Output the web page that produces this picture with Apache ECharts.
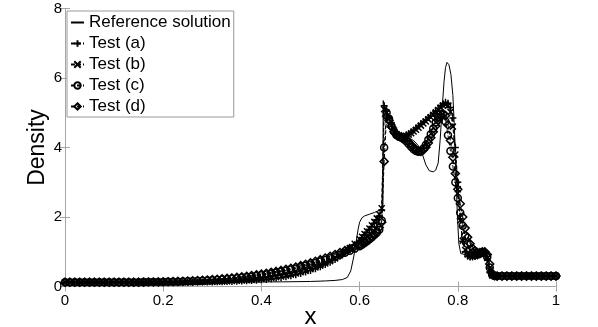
<!DOCTYPE html>
<html><head><meta charset="utf-8">
<script src="https://cdn.jsdelivr.net/npm/echarts@6/dist/echarts.min.js"></script>
<style>html,body{margin:0;padding:0;background:#fff}#c{width:598px;height:327px}</style>
</head><body><div id="c"></div>
<script>
const seriesNames = ['Reference solution','Test (a)','Test (b)','Test (c)','Test (d)'];
const xAxisTitle = 'x';
const yAxisTitle = 'Density';

const xRef = [0,0.30,0.40,0.45,0.50,0.53,0.55,0.565,0.575,0.582,0.588,0.593,0.597,0.60,0.605,0.61,0.62,0.63,0.64,0.6475,
  0.648,0.652,0.66,0.67,0.68,0.69,0.70,0.71,0.72,0.728,0.735,0.742,0.75,0.755,0.76,0.764,0.768,0.772,0.775,0.778,
  0.782,0.786,0.79,0.793,0.796,0.799,0.802,0.806,0.82,0.84,0.855,0.86,0.863,0.866,0.87,1.0];
const yRef = [0.125,0.126,0.13,0.135,0.145,0.16,0.175,0.2,0.26,0.45,0.85,1.3,1.65,1.85,1.98,2.03,2.08,2.13,2.19,2.25,
  5.35,5.15,4.85,4.55,4.38,4.32,4.28,4.2,4.05,3.8,3.5,3.33,3.3,3.35,3.55,4.2,5.1,5.9,6.3,6.45,
  6.38,6.1,5.5,4.6,3.3,2.1,1.25,0.95,0.9,0.9,0.9,0.88,0.6,0.32,0.3,0.3];

const xTest = [
  0,0.01,0.02,0.03,0.04,0.05,0.06,0.07,0.08,0.09,
  0.10,0.11,0.12,0.13,0.14,0.15,0.16,0.17,0.18,0.19,
  0.20,0.21,0.22,0.23,0.24,0.25,0.26,0.27,0.28,0.29,
  0.30,0.31,0.32,0.33,0.34,0.35,0.36,0.37,0.38,0.39,
  0.40,0.41,0.42,0.43,0.44,0.45,0.46,0.47,0.48,0.49,
  0.50,0.51,0.52,0.53,0.54,0.55,0.56,0.57,0.58,0.59,
  0.60,
  0.605,0.61,0.615,0.62,0.625,0.63,0.635,0.64,0.645,0.65,
  0.655,0.66,0.665,0.67,0.675,0.68,0.685,0.69,0.695,0.70,
  0.705,0.71,0.715,0.72,0.725,0.73,0.735,0.74,0.745,0.75,
  0.755,0.76,0.765,0.77,0.775,0.78,0.785,0.79,0.795,0.80,
  0.805,0.81,0.815,0.82,0.825,0.83,0.835,0.84,0.845,0.85,
  0.855,0.86,0.865,0.87,0.875,0.88,
  0.89,0.90,0.91,0.92,0.93,0.94,0.95,0.96,0.97,0.98,0.99,1.00
];

const testA = [
  0.125,0.125,0.125,0.125,0.125,0.125,0.125,0.125,0.125,0.125,
  0.125,0.125,0.125,0.125,0.125,0.125,0.125,0.125,0.125,0.125,
  0.125,0.125,0.125,0.125,0.125,0.125,
  0.126,0.127,0.128,0.13,0.132,0.135,0.138,0.142,0.147,0.152,
  0.158,0.165,0.173,0.182,0.193,0.205,0.22,0.237,0.257,0.28,
  0.307,0.338,0.374,0.415,0.46,0.51,0.565,0.63,0.70,0.78,
  0.87,0.97,1.08,1.2,1.33,
  1.40,1.48,1.56,1.64,1.73,1.82,1.92,2.03,2.2,5.2,
  5.05,4.86,4.67,4.5,4.39,4.33,4.31,4.32,4.35,4.39,
  4.44,4.5,4.56,4.62,4.68,4.74,4.8,4.86,4.92,4.98,
  5.05,5.12,5.2,5.26,5.3,5.27,5.15,4.85,4.0,3.0,
  1.95,1.3,1.0,0.88,0.85,0.85,0.87,0.9,0.95,0.98,
  0.96,0.8,0.42,0.31,0.3,0.3,
  0.3,0.3,0.3,0.3,0.3,0.3,0.3,0.3,0.3,0.3,0.3,0.3
];
const testB = [
  0.125,0.125,0.125,0.125,0.125,0.125,0.125,0.125,0.125,0.125,
  0.125,0.125,0.125,0.125,0.125,0.125,0.125,0.125,0.125,0.125,
  0.125,0.125,0.125,0.125,0.125,0.125,
  0.127,0.129,0.131,0.134,0.137,0.141,0.145,0.15,0.156,0.163,
  0.171,0.18,0.19,0.202,0.215,0.23,0.247,0.266,0.288,0.313,
  0.341,0.373,0.41,0.45,0.495,0.545,0.6,0.66,0.73,0.81,
  0.9,1.0,1.11,1.23,1.36,
  1.43,1.51,1.59,1.67,1.76,1.86,1.96,2.08,2.25,5.1,
  5.0,4.83,4.65,4.49,4.39,4.34,4.32,4.32,4.34,4.37,
  4.41,4.46,4.51,4.57,4.63,4.69,4.75,4.81,4.87,4.94,
  5.01,5.08,5.15,5.21,5.24,5.2,5.02,4.6,3.8,2.8,
  1.9,1.32,1.05,0.92,0.87,0.86,0.87,0.9,0.94,0.97,
  0.95,0.82,0.47,0.32,0.3,0.3,
  0.3,0.3,0.3,0.3,0.3,0.3,0.3,0.3,0.3,0.3,0.3,0.3
];
const testC = [
  0.125,0.125,0.125,0.125,0.125,0.125,0.125,0.125,0.125,0.125,
  0.125,0.125,0.125,0.125,0.125,0.125,
  0.126,0.127,0.128,0.13,0.132,0.134,0.137,0.14,0.144,0.148,
  0.153,0.159,0.165,0.172,0.18,0.189,0.199,0.21,0.222,0.235,
  0.25,0.266,0.284,0.303,0.324,0.346,0.37,0.396,0.424,0.454,
  0.486,0.52,0.556,0.594,0.634,0.676,0.72,0.766,0.814,0.864,
  0.916,0.97,1.03,1.09,1.16,
  1.2,1.25,1.3,1.36,1.42,1.48,1.55,1.63,1.9,4.0,
  5.0,4.82,4.62,4.46,4.36,4.31,4.28,4.24,4.18,4.1,
  4.02,3.95,3.9,3.88,3.9,3.97,4.08,4.22,4.38,4.55,
  4.72,4.86,4.96,4.95,4.75,4.35,3.9,3.45,3.0,2.55,
  2.12,1.75,1.45,1.22,1.07,0.98,0.93,0.92,0.94,0.97,
  0.96,0.85,0.55,0.34,0.3,0.3,
  0.3,0.3,0.3,0.3,0.3,0.3,0.3,0.3,0.3,0.3,0.3,0.3
];
const testD = [
  0.125,0.125,0.125,0.125,0.125,0.125,0.125,0.125,0.125,0.125,
  0.125,0.125,0.125,0.125,0.125,0.125,
  0.127,0.128,0.13,0.132,0.135,0.138,0.142,0.146,0.151,0.157,
  0.163,0.17,0.178,0.187,0.197,0.208,0.22,0.233,0.247,0.262,
  0.278,0.296,0.315,0.336,0.358,0.382,0.407,0.434,0.463,0.494,
  0.527,0.562,0.6,0.64,0.682,0.726,0.772,0.82,0.87,0.922,
  0.976,1.032,1.09,1.15,1.21,
  1.25,1.29,1.34,1.39,1.45,1.52,1.6,1.7,1.85,3.6,
  4.9,4.78,4.6,4.45,4.37,4.33,4.31,4.28,4.23,4.16,
  4.08,4.0,3.94,3.9,3.89,3.93,4.01,4.13,4.28,4.45,
  4.62,4.78,4.9,4.97,4.92,4.65,4.2,3.72,3.25,2.8,
  2.38,2.0,1.68,1.42,1.23,1.1,1.02,0.98,0.98,1.0,
  1.0,0.92,0.65,0.38,0.31,0.3,
  0.3,0.3,0.3,0.3,0.3,0.3,0.3,0.3,0.3,0.3,0.3,0.3
];

[testA,testB,testC,testD].forEach((a,i)=>{ if(a.length!==xTest.length) throw new Error('len mismatch '+i+': '+a.length+' vs '+xTest.length); });
if (xRef.length!==yRef.length) throw new Error('ref len mismatch');

const zip = (xs, ys) => xs.map((x,i)=>[x, ys[i]]);
const FONT = 'Liberation Sans';
const AX = '#a6a6a6';

const testSymbols = [
  'path://M5,0L5,10M0,5L10,5',
  'path://M0,0L10,10M10,0L0,10',
  'circle',
  'diamond'
];
const testSizes = [7, 6, 7, 8];
const testData = [testA, testB, testC, testD];

const series = [{
  name: seriesNames[0], type: 'line', data: zip(xRef, yRef), showSymbol: false, symbol: 'circle', symbolSize: 0,
  lineStyle: {color: '#000', width: 1}, itemStyle: {color: 'rgba(0,0,0,0)', borderWidth: 0}, z: 5, silent: true
}];
testData.forEach((ys, i) => {
  series.push({
    name: seriesNames[i+1], type: 'line', data: zip(xTest, ys),
    symbol: testSymbols[i], symbolSize: testSizes[i], showAllSymbol: true,
    lineStyle: {color: '#000', width: 1, type: [4,2]},
    itemStyle: {color: 'rgba(0,0,0,0)', borderColor: '#000', borderWidth: 1.5},
    z: 3, silent: true
  });
});

const chart = echarts.init(document.getElementById('c'), null, {renderer: 'canvas'});
chart.setOption({
  animation: false,
  backgroundColor: '#fff',
  textStyle: {fontFamily: FONT},
  grid: {left: 65, right: 42, top: 8.5, bottom: 40.5, containLabel: false},
  legend: {
    data: seriesNames, orient: 'vertical', left: 67, top: 11,
    itemWidth: 13, itemHeight: 8, itemGap: 0,
    padding: [1, 3, 0, 3],
    borderColor: '#999', borderWidth: 1, backgroundColor: '#fff',
    textStyle: {fontFamily: FONT, fontSize: 17, color: '#000', lineHeight: 21}
  },
  graphic: [
    {type: 'text', x: 310.5, y: 317.5, silent: true,
     style: {text: xAxisTitle, font: '24px "Liberation Sans"', fill: '#000', align: 'center', verticalAlign: 'middle'}},
    {type: 'text', x: 37.5, y: 147.5, rotation: Math.PI / 2, silent: true,
     style: {text: yAxisTitle, font: '23px "Liberation Sans"', fill: '#000', align: 'center', verticalAlign: 'middle'}}
  ],
  xAxis: [{
    type: 'value', min: 0, max: 1, interval: 0.2, position: 'bottom',
    axisLine: {show: true, lineStyle: {color: AX, width: 1}},
    axisTick: {show: true, inside: true, length: 5, lineStyle: {color: AX}},
    axisLabel: {fontFamily: FONT, fontSize: 15, color: '#000', margin: 7},
    splitLine: {show: false}
  }, {
    type: 'value', min: 0, max: 1, interval: 0.2, position: 'top',
    axisLine: {show: true, lineStyle: {color: AX, width: 1}},
    axisTick: {show: true, inside: true, length: 5, lineStyle: {color: AX}},
    axisLabel: {show: false}, splitLine: {show: false}
  }],
  yAxis: [{
    type: 'value', min: 0, max: 8, interval: 2, position: 'left',
    axisLine: {show: true, lineStyle: {color: AX, width: 1}},
    axisTick: {show: true, inside: true, length: 5, lineStyle: {color: AX}},
    axisLabel: {fontFamily: FONT, fontSize: 15, color: '#000', margin: 3},
    splitLine: {show: false}
  }, {
    type: 'value', min: 0, max: 8, interval: 2, position: 'right',
    axisLine: {show: true, lineStyle: {color: AX, width: 1}},
    axisTick: {show: true, inside: true, length: 5, lineStyle: {color: AX}},
    axisLabel: {show: false}, splitLine: {show: false}
  }],
  series: series
});
</script>
</body></html>
